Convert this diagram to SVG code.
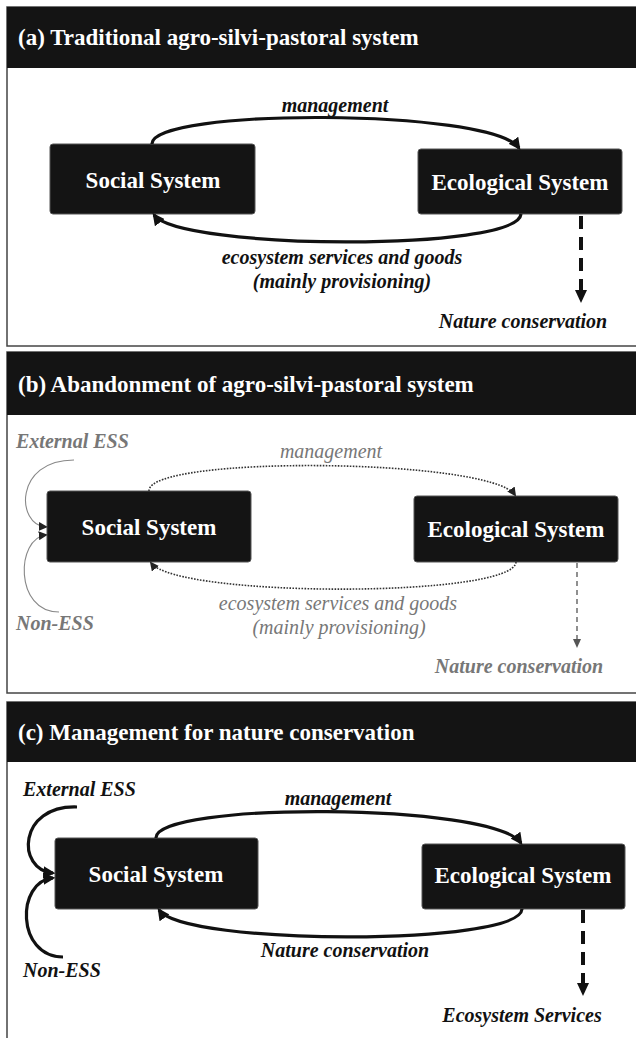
<svg xmlns="http://www.w3.org/2000/svg" width="636" height="1038" viewBox="0 0 636 1038">
<style>
.frame{fill:#fff;stroke:#444;stroke-width:1.5}
.hdr{fill:#141414}
.title{font-family:"Liberation Serif",serif;font-weight:bold;font-size:23px;fill:#fff}
.box{fill:#141414;stroke:#555;stroke-width:1}
.btxt{font-family:"Liberation Serif",serif;font-weight:bold;font-size:23px;fill:#fff;text-anchor:middle}
.lbl{font-family:"Liberation Serif",serif;font-weight:bold;font-style:italic;font-size:20px;fill:#111;text-anchor:middle}
.lblg{font-family:"Liberation Serif",serif;font-style:italic;font-size:20px;fill:#777;text-anchor:middle}
.lblgb{font-family:"Liberation Serif",serif;font-weight:bold;font-style:italic;font-size:20px;fill:#777}
.lbll{font-family:"Liberation Serif",serif;font-weight:bold;font-style:italic;font-size:20px;fill:#111}
.solid{fill:none;stroke:#111;stroke-width:3.2}
.dotted{fill:none;stroke:#333;stroke-width:1.6;stroke-dasharray:1.6 1.4}
.thin{fill:none;stroke:#888;stroke-width:1.1}
.dash{fill:none;stroke:#111;stroke-width:4;stroke-dasharray:13 8}
.dashg{fill:none;stroke:#555;stroke-width:1.3;stroke-dasharray:5 4}
</style>
<defs>
<marker id="ah" viewBox="0 0 10 10" refX="8" refY="5" markerUnits="userSpaceOnUse" markerWidth="12" markerHeight="12" orient="auto"><path d="M0,0 L10,5 L0,10 Z" fill="#111"/></marker>
<marker id="ahs" viewBox="0 0 10 10" refX="8" refY="5" markerUnits="userSpaceOnUse" markerWidth="9" markerHeight="9" orient="auto"><path d="M0,0 L10,5 L0,10 Z" fill="#222"/></marker>
<marker id="ahg" viewBox="0 0 10 10" refX="8" refY="5" markerUnits="userSpaceOnUse" markerWidth="8" markerHeight="8" orient="auto"><path d="M0,0 L10,5 L0,10 Z" fill="#555"/></marker>
</defs>

<!-- Panel a -->
<g id="panel-a">
<rect class="frame" x="7" y="7" width="640" height="339"/>
<rect class="hdr" x="7" y="7" width="640" height="61"/>
<text class="title" x="18" y="45">(a) Traditional agro-silvi-pastoral system</text>
</g>
<g id="a-social"><rect class="box" x="50" y="144" width="205" height="70" rx="3"/><text class="btxt" x="153" y="188">Social System</text></g>
<g id="a-eco"><rect class="box" x="418" y="149" width="204" height="65" rx="3"/><text class="btxt" x="520" y="190">Ecological System</text></g>
<g id="a-connectors">
<path class="solid" d="M152,144 C150,108 490,108 519,148" marker-end="url(#ah)"/>
<path class="solid" d="M521,214 C518,252 180,250 154,215" marker-end="url(#ah)"/>
<path class="dash" d="M581,216 L581,292"/>
<path d="M575,290 L587,290 L581,303 Z" fill="#111"/>
</g>
<g id="a-labels">
<text class="lbl" x="335" y="112">management</text>
<text class="lbl" x="342" y="264">ecosystem services and goods</text>
<text class="lbl" x="342" y="288">(mainly provisioning)</text>
<text class="lbl" x="523" y="328">Nature conservation</text>
</g>

<!-- Panel b -->
<g id="panel-b">
<rect class="frame" x="7" y="352" width="640" height="341"/>
<rect class="hdr" x="7" y="352" width="640" height="63"/>
<text class="title" x="18" y="392">(b) Abandonment of agro-silvi-pastoral system</text>
</g>
<g id="b-social"><rect class="box" x="47" y="491" width="204" height="71" rx="3"/><text class="btxt" x="149" y="535">Social System</text></g>
<g id="b-eco"><rect class="box" x="414" y="496" width="204" height="66" rx="3"/><text class="btxt" x="516" y="537">Ecological System</text></g>
<g id="b-connectors">
<path class="dotted" d="M149,491 C148,455 490,458 515,495" marker-end="url(#ahs)"/>
<path class="dotted" d="M516,562 C514,598 178,598 151,563" marker-end="url(#ahs)"/>
<path class="dashg" d="M577,563 L577,640"/>
<path d="M573,639 L581,639 L577,648 Z" fill="#555"/>
<path class="thin" d="M74,460 C14,460 16,525 46,527" marker-end="url(#ahs)"/>
<path class="thin" d="M59,612 C14,612 16,538 46,535" marker-end="url(#ahs)"/>
</g>
<g id="b-labels">
<text class="lblg" x="331" y="458">management</text>
<text class="lblg" x="338" y="610">ecosystem services and goods</text>
<text class="lblg" x="339" y="634">(mainly provisioning)</text>
<text class="lblgb" x="519" y="673" text-anchor="middle">Nature conservation</text>
<text class="lblgb" x="16" y="448">External ESS</text>
<text class="lblgb" x="16" y="630">Non-ESS</text>
</g>

<!-- Panel c -->
<g id="panel-c">
<rect class="frame" x="7" y="702" width="640" height="345"/>
<rect class="hdr" x="7" y="702" width="640" height="60"/>
<text class="title" x="18" y="740">(c) Management for nature conservation</text>
</g>
<g id="c-social"><rect class="box" x="55" y="838" width="203" height="71" rx="3"/><text class="btxt" x="156" y="882">Social System</text></g>
<g id="c-eco"><rect class="box" x="422" y="844" width="203" height="65" rx="3"/><text class="btxt" x="523" y="883">Ecological System</text></g>
<g id="c-connectors">
<path class="solid" d="M156,838 C154,802 492,802 521,843" marker-end="url(#ah)"/>
<path class="solid" d="M522,909 C520,946 184,946 159,910" marker-end="url(#ah)"/>
<path class="dash" d="M583,910 L583,985"/>
<path d="M577,983 L589,983 L583,996 Z" fill="#111"/>
<path class="solid" d="M77,807 C18,805 16,870 53,873" marker-end="url(#ah)"/>
<path class="solid" d="M63,957 C16,957 16,881 53,878" marker-end="url(#ah)"/>
</g>
<g id="c-labels">
<text class="lbl" x="338" y="805">management</text>
<text class="lbl" x="345" y="957">Nature conservation</text>
<text class="lbl" x="522" y="1022">Ecosystem Services</text>
<text class="lbll" x="23" y="796">External ESS</text>
<text class="lbll" x="23" y="977">Non-ESS</text>
</g>
</svg>
